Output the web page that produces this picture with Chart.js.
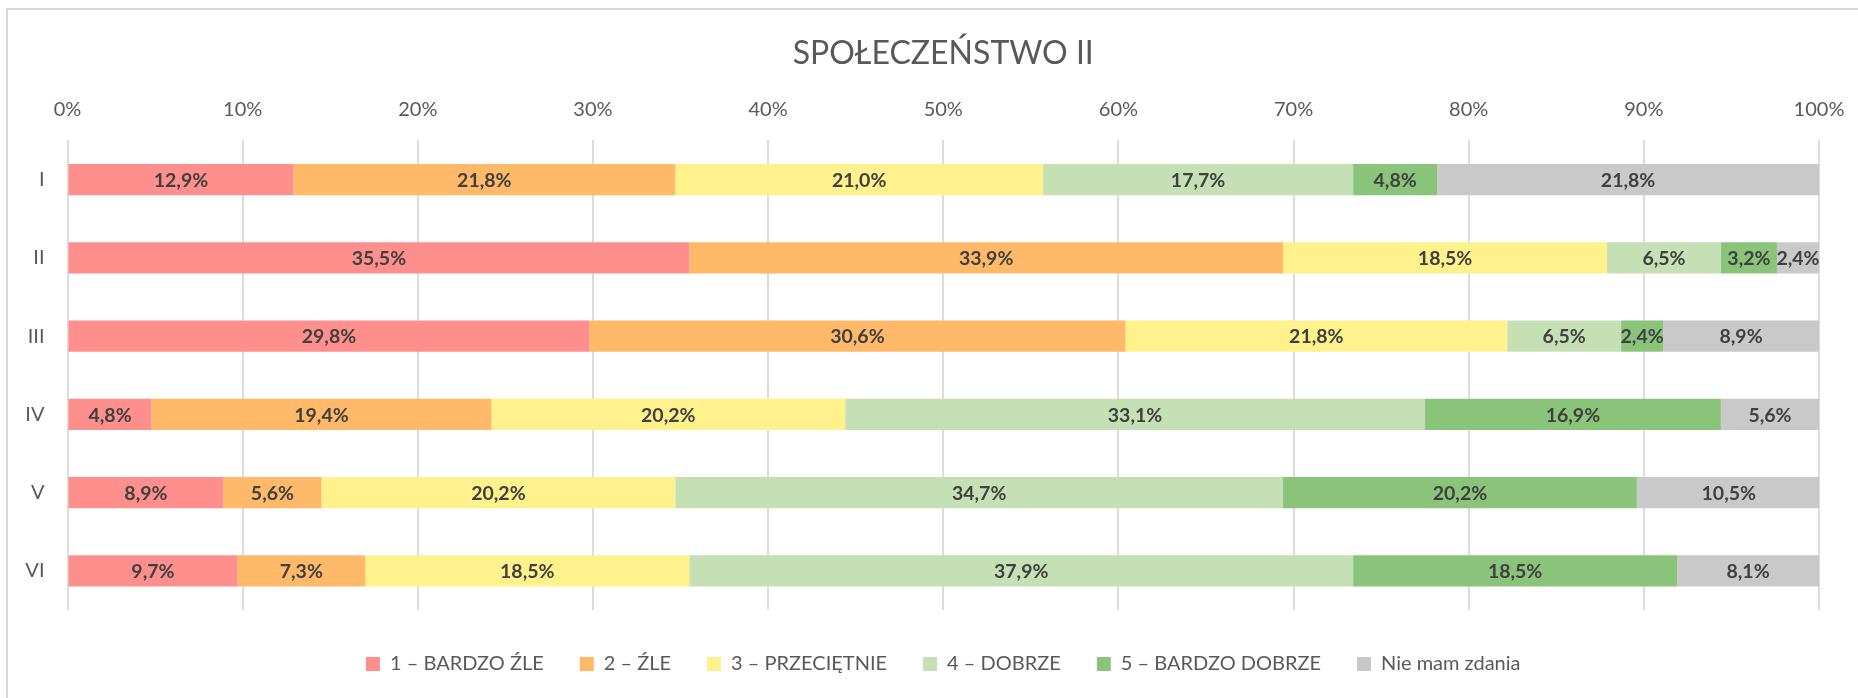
<!DOCTYPE html>
<html lang="pl">
<head>
<meta charset="utf-8">
<title>SPOŁECZEŃSTWO II</title>
<script src="https://cdn.jsdelivr.net/npm/chart.js@4"></script>
<style>
  html, body { margin: 0; padding: 0; background: #ffffff; overflow: hidden; }
  #wrap { position: relative; width: 1858px; height: 698px; }
</style>
</head>
<body>
<div id="wrap"><canvas id="barChart"></canvas></div>
<script>
/* DATA */
const rows = ['I', 'II', 'III', 'IV', 'V', 'VI'];
const answerLabels = ['1 – BARDZO ŹLE', '2 – ŹLE', '3 – PRZECIĘTNIE', '4 – DOBRZE', '5 – BARDZO DOBRZE', 'Nie mam zdania'];
const bardzoZle = [12.9, 35.5, 29.8, 4.8, 8.9, 9.7];
const zle = [21.8, 33.9, 30.6, 19.4, 5.6, 7.3];
const przecietnie = [21.0, 18.5, 21.8, 20.2, 20.2, 18.5];
const dobrze = [17.7, 6.5, 6.5, 33.1, 34.7, 37.9];
const bardzoDobrze = [4.8, 3.2, 2.4, 16.9, 20.2, 18.5];
const nieMamZdania = [21.8, 2.4, 8.9, 5.6, 10.5, 8.1];
const percentTicks = [0, 10, 20, 30, 40, 50, 60, 70, 80, 90, 100];

const colors = ['#FF8F8D', '#FFB969', '#FFF18B', '#C5E0B4', '#8AC47B', '#C9C9C9'];
const seriesValues = [bardzoZle, zle, przecietnie, dobrze, bardzoDobrze, nieMamZdania];

const FONT = 'Lato, "Open Sans", sans-serif';

/* PLUGINS */

// light frame around the whole chart (runs off the right and bottom edge)
const frame = {
    id: 'frame',
    beforeDraw(chart) {
        const ctx = chart.ctx;
        ctx.save();
        ctx.strokeStyle = '#D9D9D9';
        ctx.lineWidth = 2;
        ctx.strokeRect(7, 9, chart.width + 40, chart.height + 40);
        ctx.restore();
    }
};

// value in the middle of every segment, Polish decimal comma
const segmentLabels = {
    id: 'segmentLabels',
    afterDatasetsDraw(chart) {
        const ctx = chart.ctx;
        ctx.save();
        ctx.font = 'bold 19.5px ' + FONT;
        ctx.fillStyle = '#404040';
        ctx.textAlign = 'center';
        ctx.textBaseline = 'middle';
        chart.data.datasets.forEach((ds, i) => {
            chart.getDatasetMeta(i).data.forEach((bar, j) => {
                const p = bar.getProps(['x', 'y', 'base'], true);
                const text = ds.data[j].toFixed(1).replace('.', ',') + '%';
                ctx.fillText(text, (p.x + p.base) / 2, p.y + 1);
            });
        });
        ctx.restore();
    }
};

/* CHART */
function createBarChart() {
    const ctx = document.getElementById('barChart').getContext('2d');

    const datasets = answerLabels.map((label, i) => ({
        label: label,
        data: seriesValues[i],
        backgroundColor: colors[i],
        borderWidth: 0,
        categoryPercentage: 1,
        barPercentage: 0.4,
    }));

    return new Chart(ctx, {
        type: 'bar',
        data: { labels: rows, datasets: datasets },
        plugins: [frame, segmentLabels],
        options: {
            indexAxis: 'y',
            responsive: true,
            maintainAspectRatio: false,
            animation: false,
            layout: {
                padding: { left: 7, right: 39, top: 0, bottom: 14 }
            },
            scales: {
                x: {
                    position: 'top',
                    stacked: true,
                    min: 0,
                    max: 100,
                    afterBuildTicks: (scale) => {
                        scale.ticks = percentTicks.map(v => ({ value: v }));
                    },
                    afterFit: (scale) => {
                        scale.height = 57;
                        scale.paddingLeft = 0;
                        scale.paddingRight = 0;
                    },
                    ticks: {
                        padding: 19,
                        color: '#595959',
                        font: { family: FONT, size: 20 },
                        callback: (v) => v + '%',
                    },
                    grid: {
                        color: '#DCDCDC',
                        lineWidth: 2,
                        drawTicks: false,
                    },
                    border: { display: false },
                },
                y: {
                    stacked: true,
                    afterFit: (scale) => { scale.width = 60.5; },
                    ticks: {
                        padding: 23,
                        color: '#595959',
                        font: { family: FONT, size: 20 },
                    },
                    grid: { display: false, drawTicks: false },
                    border: { display: false },
                },
            },
            plugins: {
                title: {
                    display: true,
                    text: 'SPOŁECZEŃSTWO II',
                    fullSize: false,
                    color: '#595959',
                    font: { family: FONT, size: 32, weight: 'normal' },
                    padding: { top: 34, bottom: 11 },
                },
                legend: {
                    display: true,
                    position: 'bottom',
                    fullSize: false,
                    // empty legend title only pushes the row down a little
                    title: {
                        display: true,
                        text: '',
                        font: { family: FONT, size: 2, lineHeight: 1 },
                        padding: { top: 6, bottom: 0 },
                    },
                    labels: {
                        boxWidth: 14,
                        boxHeight: 14,
                        padding: 36,
                        color: '#595959',
                        font: { family: FONT, size: 20 },
                    },
                },
                tooltip: { enabled: false },
            },
        },
    });
}

createBarChart();
</script>
</body>
</html>
